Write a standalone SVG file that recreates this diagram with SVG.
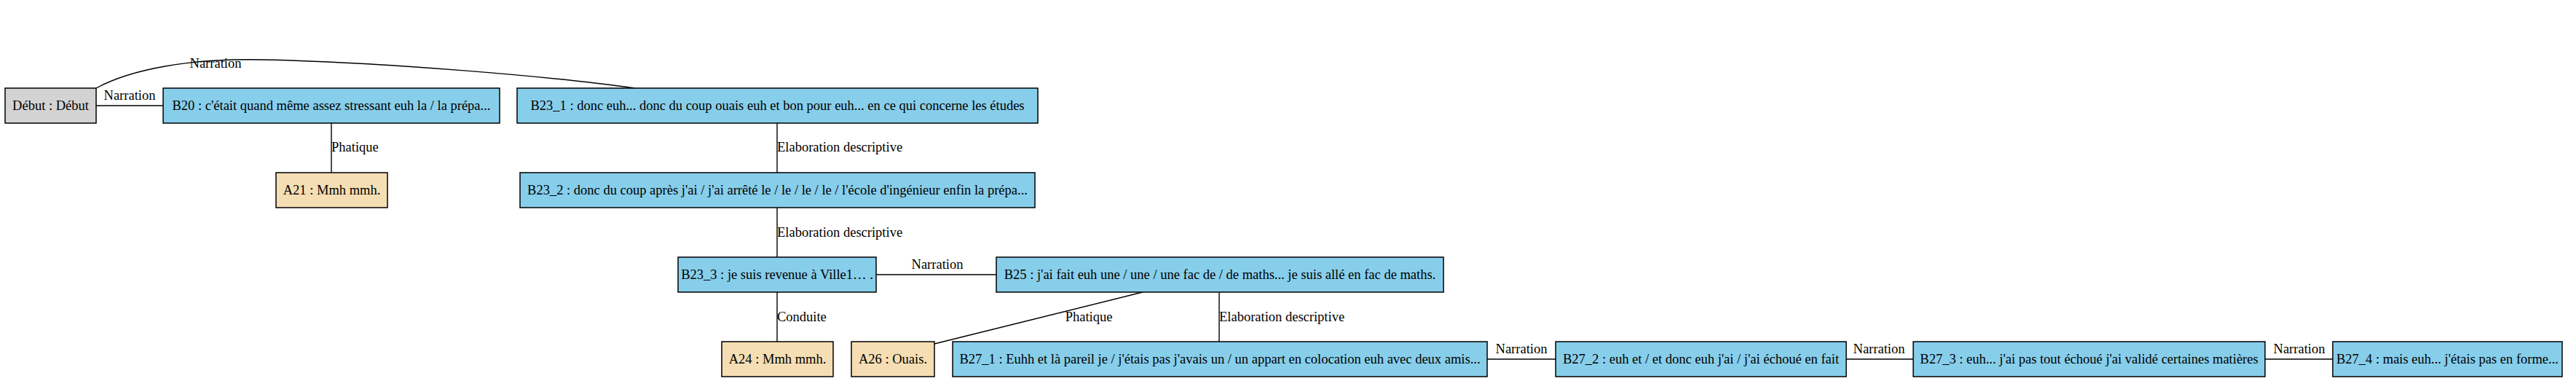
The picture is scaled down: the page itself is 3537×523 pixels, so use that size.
<svg xmlns="http://www.w3.org/2000/svg" width="3537" height="523" viewBox="0 0 3537 523">
<style>
text{font-family:"Liberation Serif","Times New Roman",serif;font-size:18.5px;fill:#000}
.n rect{stroke:#000;stroke-width:1.5}
.n text{text-anchor:middle}
.b rect{fill:#87CEEB}
.a rect{fill:#F5DEB3}
.g rect{fill:#D3D3D3}
#edges path{fill:none;stroke:#000;stroke-width:1.4}
.lm{text-anchor:middle}
.ls{text-anchor:start}
</style>
<rect width="3537" height="523" fill="#fff"/>
<g id="edges">
<path d="M132,145 L224,145"/>
<text class="lm" x="178" y="137">Narration</text>
<path d="M132,121 C180,95 260,80 360,82 C520,85 760,105 871,121"/>
<text class="lm" x="296" y="93">Narration</text>
<path d="M455,169 L455,237"/>
<text class="ls" x="455" y="208">Phatique</text>
<path d="M1067,169 L1067,237"/>
<text class="ls" x="1067" y="208">Elaboration descriptive</text>
<path d="M1067,285 L1067,353"/>
<text class="ls" x="1067" y="325">Elaboration descriptive</text>
<path d="M1203,377 L1368,377"/>
<text class="lm" x="1287" y="369">Narration</text>
<path d="M1067,401 L1067,469"/>
<text class="ls" x="1067" y="441">Conduite</text>
<path d="M1569,401 L1283,472"/>
<text class="lm" x="1495" y="441">Phatique</text>
<path d="M1674,401 L1674,469"/>
<text class="ls" x="1674" y="441">Elaboration descriptive</text>
<path d="M2042,493 L2136,493"/>
<text class="lm" x="2089" y="485">Narration</text>
<path d="M2535,493 L2627,493"/>
<text class="lm" x="2580" y="485">Narration</text>
<path d="M3110,493 L3203,493"/>
<text class="lm" x="3157" y="485">Narration</text>
</g>
<g id="debut" class="n g"><rect x="7" y="121" width="125" height="48"/><text x="69.5" y="151">Début : Début</text></g>
<g id="B20" class="n b"><rect x="224" y="121" width="462" height="48"/><text x="455" y="151">B20 : c'était quand même assez stressant euh la / la prépa...</text></g>
<g id="A21" class="n a"><rect x="379" y="237" width="153" height="48"/><text x="455.5" y="267">A21 : Mmh mmh.</text></g>
<g id="B23_1" class="n b"><rect x="710" y="121" width="715" height="48"/><text x="1067.5" y="151">B23_1 : donc euh... donc du coup ouais euh et bon pour euh... en ce qui concerne les études</text></g>
<g id="B23_2" class="n b"><rect x="714" y="237" width="707" height="48"/><text x="1067.5" y="267">B23_2 : donc du coup après j'ai / j'ai arrêté le / le / le / le / l'école d'ingénieur enfin la prépa...</text></g>
<g id="B23_3" class="n b"><rect x="931" y="353" width="272" height="48"/><text x="1067" y="383">B23_3 : je suis revenue à Ville1… .</text></g>
<g id="B25" class="n b"><rect x="1368" y="353" width="614" height="48"/><text x="1675" y="383">B25 : j'ai fait euh une / une / une fac de / de maths... je suis allé en fac de maths.</text></g>
<g id="A24" class="n a"><rect x="991" y="469" width="153" height="48"/><text x="1067.5" y="499">A24 : Mmh mmh.</text></g>
<g id="A26" class="n a"><rect x="1169" y="469" width="114" height="48"/><text x="1226" y="499">A26 : Ouais.</text></g>
<g id="B27_1" class="n b"><rect x="1308" y="469" width="734" height="48"/><text x="1675" y="499">B27_1 : Euhh et là pareil je / j'étais pas j'avais un / un appart en colocation euh avec deux amis...</text></g>
<g id="B27_2" class="n b"><rect x="2136" y="469" width="399" height="48"/><text x="2335.5" y="499">B27_2 : euh et / et donc euh j'ai / j'ai échoué en fait</text></g>
<g id="B27_3" class="n b"><rect x="2627" y="469" width="483" height="48"/><text x="2868.5" y="499">B27_3 : euh... j'ai pas tout échoué j'ai validé certaines matières</text></g>
<g id="B27_4" class="n b"><rect x="3203" y="469" width="315" height="48"/><text x="3360.5" y="499">B27_4 : mais euh... j'étais pas en forme...</text></g>
</svg>
